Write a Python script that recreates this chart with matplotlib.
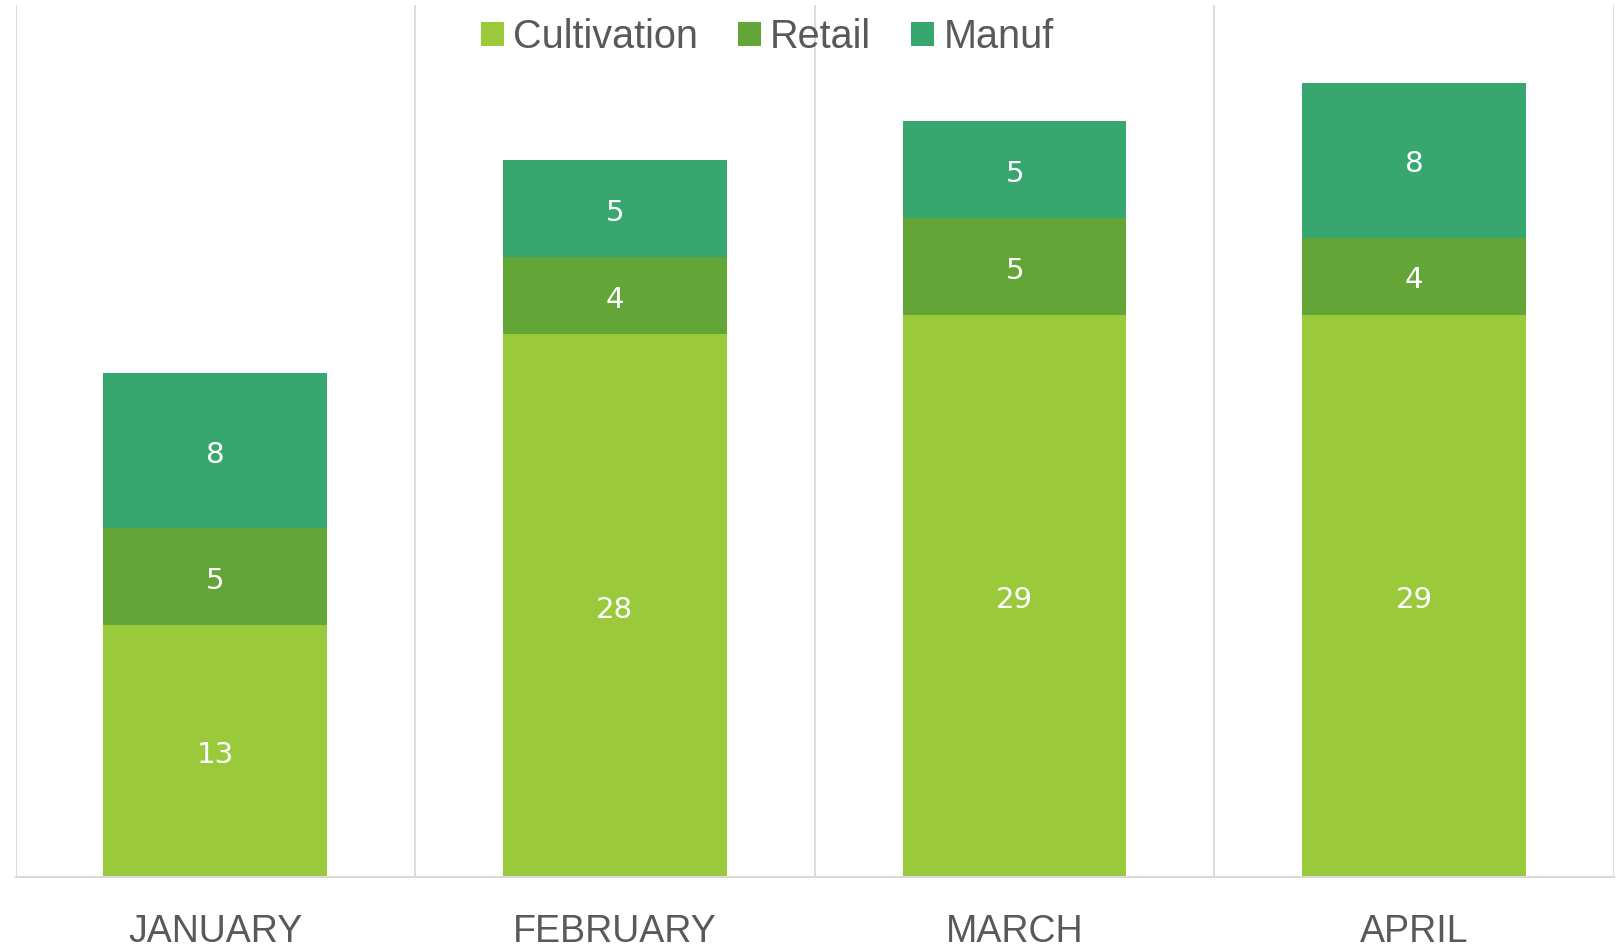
import numpy as np
import matplotlib
matplotlib.use("Agg")
import matplotlib.pyplot as plt
from matplotlib.patches import Patch

# ── DATA ──────────────────────────────────────────────────────────────────────
months = ["JANUARY", "FEBRUARY", "MARCH", "APRIL"]
series_names = ["Cultivation", "Retail", "Manuf"]
cultivation = [13, 28, 29, 29]
retail = [5, 4, 5, 4]
manuf = [8, 5, 5, 8]

colors = ["#9ACA3C", "#63A537", "#37A76F"]
GRID = "#D9D9D9"
TEXT = "#595959"

# ── FIGURE ────────────────────────────────────────────────────────────────────
fig = plt.figure(figsize=(16.22, 9.5), dpi=100, facecolor="white")
ax = fig.add_axes([15.5 / 1622, 73 / 950, (1614 - 15.5) / 1622, (877 - 5) / 950])

x = np.arange(len(months))
bottom = np.zeros(len(months))
for name, vals, col in zip(series_names, [cultivation, retail, manuf], colors):
    bars = ax.bar(x, vals, width=0.56, bottom=bottom, color=col,
                  edgecolor="none", zorder=2, label=name)
    ax.bar_label(bars, labels=[str(v) for v in vals], label_type="center",
                 color="white", fontsize=21, family="DejaVu Sans", padding=-3)
    bottom += np.array(vals)

ax.set_xlim(-0.5, len(months) - 0.5)
ax.set_ylim(0, 45)

# category separator lines
for b in np.arange(-0.5, len(months), 1.0):
    ax.axvline(b, color=GRID, linewidth=1.3, zorder=1)

for s in ["top", "right", "left"]:
    ax.spines[s].set_visible(False)
ax.spines["bottom"].set_color(GRID)
ax.spines["bottom"].set_linewidth(1.5)

ax.set_yticks([])
ax.set_xticks(x)
ax.set_xticklabels(months, fontsize=27, color=TEXT, family="Liberation Sans")
ax.tick_params(axis="x", length=0, pad=27)

# ── LEGEND ────────────────────────────────────────────────────────────────────
handles = [Patch(facecolor=c, edgecolor="none") for c in colors]
fig.legend(handles, series_names, loc="center", bbox_to_anchor=(0.473, 0.961),
           ncol=3, frameon=False, handlelength=0.58, handleheight=0.58,
           handletextpad=0.24, columnspacing=1.0,
           prop={"family": "Liberation Sans", "size": 28.5},
           labelcolor=TEXT)

fig.savefig("out.png", dpi=100, facecolor="white")
